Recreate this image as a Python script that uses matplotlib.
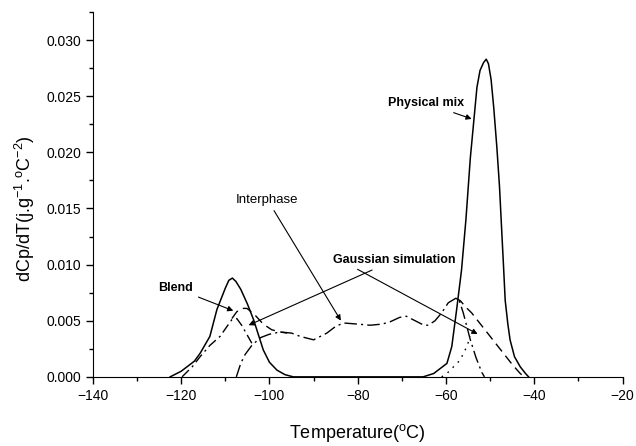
import matplotlib
matplotlib.use("Agg")
import matplotlib.pyplot as plt
from matplotlib.ticker import MultipleLocator, FormatStrFormatter

plt.rcParams['font.family'] = ['Liberation Sans', 'DejaVu Sans']
plt.rcParams['mathtext.fontset'] = 'custom'
plt.rcParams['mathtext.rm'] = 'Liberation Sans'

# measured DSC derivative curves (solid: blend + physical mix)
solid_T = [-122.5, -120, -117, -115.7, -113.5, -111.9, -110, -109.2, -108.4, -107.6, -106.5,
           -105, -103.6, -101.4, -100, -98.3, -96.5, -94.6, -80, -65.2, -62.8, -59.8, -58.7,
           -57.6, -56.5, -55.5, -54.5, -53.0, -52.3, -51.5, -50.9, -50.4, -49.8, -49.2, -48.5,
           -47.9, -47.4, -47.0, -46.6, -46.0, -45.5, -44.5, -43.2, -42.0, -41.3]
solid_y = [0, 0.0005, 0.0014, 0.0021, 0.0036, 0.0060, 0.0079, 0.0086, 0.0088, 0.0085, 0.0078,
           0.0065, 0.0051, 0.0024, 0.0013, 0.0006, 0.0002, 0, 0, 0, 0.0003, 0.0012, 0.0027,
           0.0060, 0.0095, 0.0140, 0.0195, 0.0258, 0.0273, 0.0280, 0.0283, 0.0279, 0.0265,
           0.0240, 0.0205, 0.0170, 0.0131, 0.0100, 0.0068, 0.0047, 0.0033, 0.0018, 0.0009,
           0.0003, 0]

# gaussian component of the blend transition (dash-dot)
blend_T = [-119.8, -117.5, -115.7, -113.5, -111.2, -109.6, -108.5, -107.4, -106.3, -105.0, -104.0]
blend_y = [0, 0.0009, 0.0018, 0.0028, 0.0036, 0.0045, 0.0051, 0.0052, 0.0046, 0.0037, 0.0030]

# gaussian simulation sums (dashed)
sum1_T = [-108.5, -107.4, -106.2, -105.1, -103.5, -101.4, -99.5, -97.6, -96.0]
sum1_y = [0.0052, 0.0058, 0.0061, 0.0061, 0.0056, 0.0047, 0.0042, 0.0040, 0.0039]
sum2_T = [-57.8, -56.8, -55.5, -54.2, -52.0, -49.6, -47.0, -45.0, -43.2, -42.3]
sum2_y = [0.0070, 0.0068, 0.0062, 0.0057, 0.0046, 0.0034, 0.0021, 0.0011, 0.0003, 0]

# interphase (dash-dot)
inter_T = [-107.5, -106.5, -105.5, -104, -102, -100, -97.6, -95, -93, -90, -87, -85, -83.2,
           -80, -77.2, -74.5, -72.7, -70.5, -69, -67, -65, -64, -62.5, -61, -59.5, -57.8,
           -57, -56.1, -55.3, -54.5, -53.2, -51.9, -51.3]
inter_y = [0, 0.0012, 0.0020, 0.0028, 0.0035, 0.0038, 0.0040, 0.0039, 0.0036, 0.0033, 0.0039,
           0.0045, 0.0048, 0.0047, 0.0046, 0.0047, 0.0049, 0.0053, 0.0054, 0.0050, 0.0046,
           0.0046, 0.0050, 0.0057, 0.0066, 0.0070, 0.0068, 0.0057, 0.0045, 0.0033, 0.0017,
           0.0004, 0]

# physical mix gaussian component (dotted)
phys_T = [-61, -59.8, -58.3, -56.8, -55.3, -54.5]
phys_y = [0, 0.0003, 0.0009, 0.0015, 0.0027, 0.0036]

fig = plt.figure(figsize=(6.36, 4.46), dpi=100)
ax = fig.add_axes([0.146, 0.155, 0.833, 0.818])

ax.plot(solid_T, solid_y, color='black', lw=1.1)
ax.plot(blend_T, blend_y, color='black', lw=1.0, dashes=(7, 3, 1.5, 3))
ax.plot(sum1_T, sum1_y, color='black', lw=1.0, dashes=(7, 4))
ax.plot(sum2_T, sum2_y, color='black', lw=1.0, dashes=(7, 4))
ax.plot(inter_T, inter_y, color='black', lw=1.0, dashes=(9, 3, 1.5, 3))
ax.plot(phys_T, phys_y, color='black', lw=1.0, dashes=(1.2, 4))

ax.set_xlim(-140, -20)
ax.set_ylim(0, 0.0325)
ax.xaxis.set_major_locator(MultipleLocator(20))
ax.xaxis.set_minor_locator(MultipleLocator(10))
ax.yaxis.set_major_locator(MultipleLocator(0.005))
ax.yaxis.set_minor_locator(MultipleLocator(0.0025))
ax.yaxis.set_major_formatter(FormatStrFormatter('%.3f'))
ax.tick_params(which='major', direction='out', length=5, width=1, labelsize=10)
ax.tick_params(which='minor', direction='out', length=3, width=1)
ax.spines['top'].set_visible(False)
ax.spines['right'].set_visible(False)

ax.set_xlabel('Temperature($^{\\rm o}$C)', fontsize=13, labelpad=14)
ax.set_ylabel('dCp/dT(j.g$^{-1}$.$^{\\rm o}$C$^{-2}$)', fontsize=13)
ax.yaxis.set_label_coords(-0.105, 0.462)

arrow = dict(arrowstyle='-|>', color='black', lw=0.8, mutation_scale=8)
ax.annotate('Blend', xy=(-107.6, 0.0058), xytext=(-117.3, 0.0079), fontsize=9,
            fontweight='bold', ha='right', va='center', arrowprops=arrow)
ax.annotate('Interphase', xy=(-83.5, 0.0048), xytext=(-100.5, 0.0158), fontsize=9.5,
            ha='center', va='center', arrowprops=arrow)
ax.annotate('Gaussian simulation', xy=(-105.3, 0.0045), xytext=(-85.6, 0.0104), fontsize=9,
            fontweight='bold', ha='left', va='center', arrowprops=arrow)
ax.annotate('', xy=(-52.3, 0.0037), xytext=(-80.6, 0.0097), arrowprops=arrow)
ax.annotate('Physical mix', xy=(-53.6, 0.0229), xytext=(-56.0, 0.0244), fontsize=9,
            fontweight='bold', ha='right', va='center', arrowprops=arrow)

fig.savefig('out.png', dpi=100)
